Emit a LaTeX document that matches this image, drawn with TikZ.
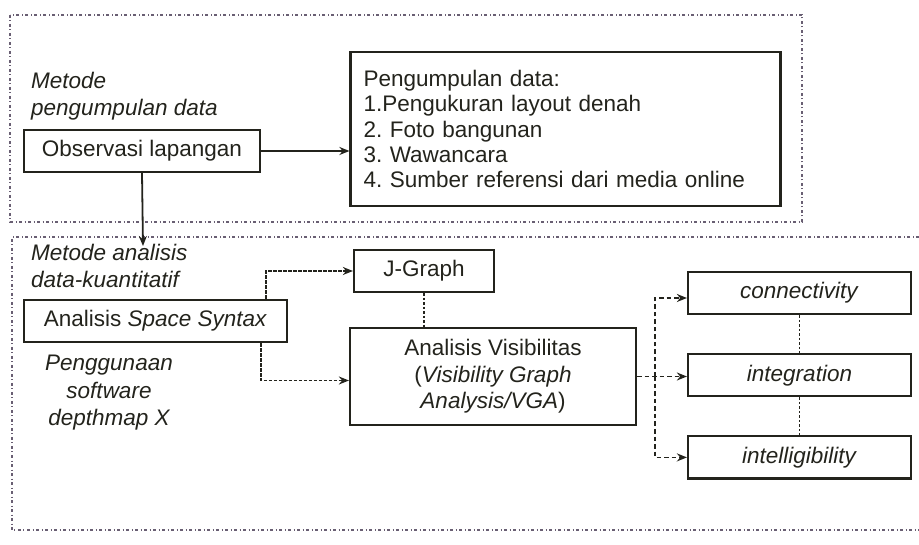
\documentclass[tikz,border=0pt]{standalone}
\usepackage{fontspec}
\setmainfont{Liberation Sans}
\usetikzlibrary{arrows.meta, positioning}
\definecolor{framegray}{RGB}{105,95,115}
\definecolor{inkline}{RGB}{35,35,28}

\begin{document}
\frenchspacing
\begin{tikzpicture}[
    x=1pt, y=-1pt,
    node distance=38pt,
    box/.style={draw=inkline, line width=2.2pt, rectangle, minimum height=42pt, inner sep=2pt, align=center, text=inkline, font=\fontsize{22.5}{26.5}\selectfont},
    listbox/.style={draw=inkline, line width=2.2pt, rectangle, text width=404pt, minimum height=154pt, inner xsep=13pt, align=left, text=inkline, font=\fontsize{22.5}{25.3}\selectfont},
    note/.style={inner sep=0pt, text=inkline, font=\fontsize{22.5}{27.5}\selectfont\itshape},
    frame/.style={draw=framegray, line width=1.6pt, dash pattern=on 3pt off 2.5pt on 1pt off 2.5pt},
    arrow/.style={draw=inkline, line width=1.8pt, -{Stealth[length=10pt, width=8pt]}},
    dasharrow/.style={arrow, dash pattern=on 3.5pt off 1.5pt},
    forkarrow/.style={arrow, dash pattern=on 4.5pt off 3pt},
    dotline/.style={draw=inkline, line width=1.8pt, dash pattern=on 2.5pt off 2pt}
]
\useasboundingbox (0,0) rectangle (919,545);

% frames
\draw[frame] (10,15) rectangle (802,222);
\draw[frame] (919,237) -- (12,237) -- (12,530) -- (919,530);

% collecting data
\node[note, anchor=west, align=left] (lblcollect) at (31,96) {Metode\\pengumpulan data};
\node[box, minimum width=236pt] (obs) at (142,151) {Observasi lapangan};
\node[listbox] (data) at (565.5,129) {Pengumpulan data:\\1.Pengukuran layout denah\\2. Foto bangunan\\3. Wawancara\\4. Sumber referensi dari media online};
\coordinate (entry) at (143,246);

% analysis
\node[note, anchor=west, align=left] (lblanalysis) at (31,266) {Metode analisis\\data-kuantitatif};
\node[box, minimum width=263pt] (ss) at (155.5,321) {Analisis \textit{Space Syntax}};
\node[note, align=center] (lblsoft) at (109,393) {Penggunaan\\software\\depthmap X};
\node[box, minimum width=140pt] (jg) at (424,271) {J-Graph};
\node[box, minimum width=286pt, minimum height=97pt] (vis) at (493,376.5) {Analisis Visibilitas\\(\textit{Visibility Graph}\\\textit{Analysis/VGA})};

% measures
\node[box, minimum width=223pt] (con) at (799.5,293) {\textit{connectivity}};
\node[box, minimum width=223pt, below=of con] (int) {\textit{integration}};
\node[box, minimum width=223pt, below=of int] (itl) {\textit{intelligibility}};
\coordinate (fork) at (655,376.5);

\draw[arrow] (obs.east) -- (obs.east -| data.west);
\draw[arrow] (obs.south) -- (entry);
\draw[dasharrow] ([xshift=-22pt]ss.north east) |- (jg.west);
\draw[dasharrow] ([xshift=-27pt]ss.south east) |- ([yshift=-4pt]vis.west);
\draw[dotline] (jg.south) -- (jg.south |- vis.north);
\draw[forkarrow] (vis.east) -- (int.west |- vis.east);
\draw[forkarrow] (fork) |- ([yshift=-5pt]con.west);
\draw[forkarrow] (fork) |- (itl.west);
\draw[dotline] (con.south) -- (int.north);
\draw[dotline] (int.south) -- (itl.north);

\end{tikzpicture}
\end{document}
